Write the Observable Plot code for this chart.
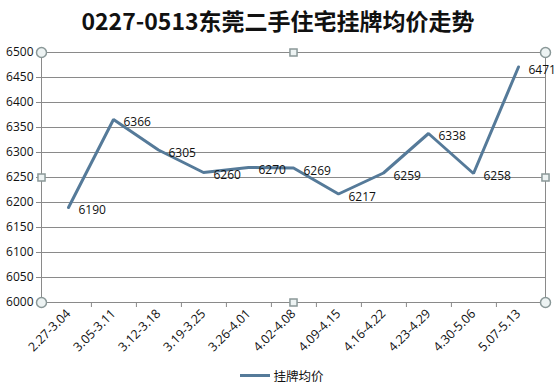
<!DOCTYPE html>
<html>
<head>
<meta charset="utf-8">
<script src="https://cdn.jsdelivr.net/npm/d3@7"></script>
<script src="https://cdn.jsdelivr.net/npm/@observablehq/plot@0.6"></script>
<style>
  html, body { margin: 0; padding: 0; background: #fff; }
  body { width: 556px; height: 390px; overflow: hidden; font-family: "Noto Sans CJK SC", "Open Sans", sans-serif; }
  #title { height: 40px; line-height: 40px; text-align: center; font-size: 23px; font-weight: bold; color: #111; font-family: "Noto Sans CJK SC", sans-serif; }
  #legend { height: 30px; display: flex; justify-content: center; align-items: center; font-size: 12.5px; color: #111; }
  #legend .sw { display: inline-block; width: 30px; height: 3px; background: #557a99; margin-right: 3px; margin-left: 8px; }
</style>
</head>
<body>
<div id="title">0227-0513东莞二手住宅挂牌均价走势</div>
<div id="chart"></div>
<div id="legend"><span class="sw"></span><span>挂牌均价</span></div>
<script>
const categories = ["2.27-3.04","3.05-3.11","3.12-3.18","3.19-3.25","3.26-4.01","4.02-4.08","4.09-4.15","4.16-4.22","4.23-4.29","4.30-5.06","5.07-5.13"];
const prices = [6190, 6366, 6305, 6260, 6270, 6269, 6217, 6259, 6338, 6258, 6471];
const yTicks = [6000, 6050, 6100, 6150, 6200, 6250, 6300, 6350, 6400, 6450, 6500];
const seriesName = "挂牌均价";

const data = categories.map((c, i) => ({week: c, price: prices[i]}));
const lineColor = "#557a99";
const handleFill = "#edf3f3";
const handleStroke = "#8a9898";

const chart = Plot.plot({
  width: 556,
  height: 320,
  marginTop: 12,
  marginBottom: 58,
  marginLeft: 41,
  marginRight: 11,
  style: {fontFamily: "'Open Sans', 'Liberation Sans', sans-serif", fontSize: "11px", color: "#111", background: "#fff"},
  x: {type: "point", domain: categories, padding: 0.5, label: null},
  y: {domain: [6000, 6500], label: null},
  marks: [
    Plot.gridY(yTicks, {stroke: "#8a8a8a", strokeOpacity: 1, strokeWidth: 1}),
    Plot.frame({stroke: "#8a8a8a", strokeWidth: 1}),
    Plot.ruleX(categories.slice(0, -1), {x: d => d, y1: 6000, y2: 6000, insetBottom: -5, dx: (504 / 11) / 2, stroke: "#8a8a8a"}),
    Plot.axisY({ticks: yTicks, tickFormat: d => String(d), tickSize: 5, tickPadding: 3, stroke: "#8a8a8a", fontSize: 12}),
    Plot.axisX({tickSize: 0, tickRotate: -45, tickPadding: 9, fontSize: 12.5}),
    Plot.line(data, {x: "week", y: "price", stroke: lineColor, strokeWidth: 3, strokeLinejoin: "miter"}),
    Plot.text(data, {x: "week", y: "price", text: d => String(d.price), dx: 10, dy: 3, textAnchor: "start", fontSize: 12, fill: "#111"}),
    Plot.dot([0], {frameAnchor: "top-left", r: 5, fill: handleFill, stroke: handleStroke}),
    Plot.dot([0], {frameAnchor: "top-right", r: 5, fill: handleFill, stroke: handleStroke}),
    Plot.dot([0], {frameAnchor: "bottom-left", r: 5, fill: handleFill, stroke: handleStroke}),
    Plot.dot([0], {frameAnchor: "bottom-right", r: 5, fill: handleFill, stroke: handleStroke}),
    Plot.dot([0], {frameAnchor: "top", r: 4, symbol: "square", fill: handleFill, stroke: handleStroke}),
    Plot.dot([0], {frameAnchor: "bottom", r: 4, symbol: "square", fill: handleFill, stroke: handleStroke}),
    Plot.dot([0], {frameAnchor: "left", r: 4, symbol: "square", fill: handleFill, stroke: handleStroke}),
    Plot.dot([0], {frameAnchor: "right", r: 4, symbol: "square", fill: handleFill, stroke: handleStroke})
  ]
});
document.getElementById("chart").appendChild(chart);
</script>
</body>
</html>
